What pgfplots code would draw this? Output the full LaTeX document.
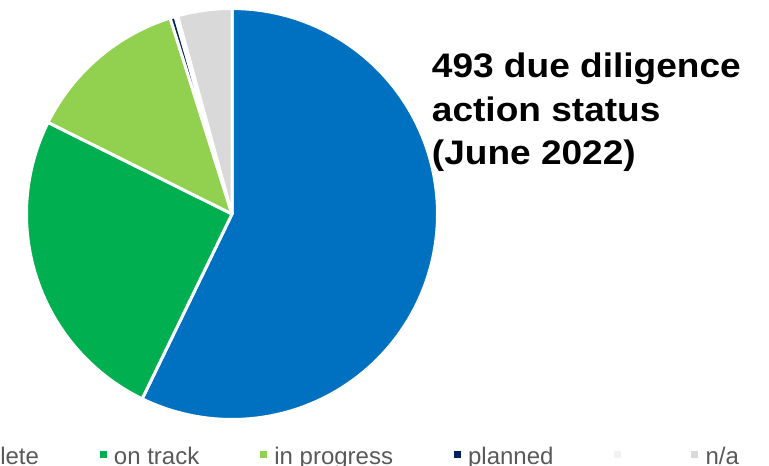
\documentclass[border=0pt]{standalone}
\usepackage{pgfplots}
\usepackage{pgfplotstable}
\pgfplotsset{compat=1.18}
\usepackage{fontspec}
\setmainfont{Liberation Sans}
\newfontfamily\titlefont[FakeStretch=1.09]{Liberation Sans}

\definecolor{cComplete}{HTML}{0070C0}
\definecolor{cTrack}{HTML}{00B050}
\definecolor{cProgress}{HTML}{92D050}
\definecolor{cPlanned}{HTML}{002060}
\definecolor{cBlank}{HTML}{F2F2F2}
\definecolor{cNA}{HTML}{D9D9D9}
\definecolor{legendtext}{HTML}{595959}

% number of due diligence actions per status (June 2022), total 493
\pgfplotstableread{
status count
complete 282
ontrack 124
inprogress 63
planned 2
blank 1
na 21
}\piedata

\def\cumsum{0}
\pgfplotsforeachungrouped \i in {0,...,5}{%
  \pgfplotstablegetelem{\i}{count}\of\piedata
  \pgfmathsetmacro\cumnext{\cumsum+\pgfplotsretval}%
  \global\let\cumsum\cumnext
}
\let\total\cumsum
\def\cumsum{0}
\pgfplotsforeachungrouped \i in {0,...,5}{%
  \pgfplotstablegetelem{\i}{count}\of\piedata
  \pgfmathsetmacro\cumnext{\cumsum+\pgfplotsretval}%
  \pgfmathsetmacro\tA{\cumsum/\total*360}%
  \pgfmathsetmacro\tB{\cumnext/\total*360}%
  \expandafter\xdef\csname sliceA\i\endcsname{\tA}%
  \expandafter\xdef\csname sliceB\i\endcsname{\tB}%
  \global\let\cumsum\cumnext
}
\newcommand\ang[2]{\csname slice#1#2\endcsname}

\begin{document}
\begin{tikzpicture}
\begin{axis}[
  x=0.5pt, y=0.5pt, y dir=reverse,
  xmin=0, xmax=769, ymin=0, ymax=465, enlargelimits=false,
  hide axis, clip=false,
  legend columns=-1,
  legend style={draw=none, fill=none, inner sep=0pt, outer sep=0pt,
    at={(axis cs:-72.4,467)}, anchor=south west,
    font=\fontsize{12}{14}\selectfont, text=legendtext,
    nodes={inner sep=0pt},
    /tikz/every odd column/.append style={column sep=3.5pt},
    /tikz/every even column/.append style={column sep=30.5pt}},
  legend image code/.code={\fill[#1,draw=none] (0pt,-0.5pt) rectangle (3.5pt,3pt);},
  slice/.style={draw=white, line width=1.5pt, line join=round, samples=120},
]
\addplot[slice, fill=cComplete, domain=\ang{A}{0}:\ang{B}{0}]
  ({232+205.5*sin(x)},{214-205.5*cos(x)}) -- (axis cs:232,214) -- cycle;
\addlegendentry{complete}
\addplot[slice, fill=cTrack, domain=\ang{A}{1}:\ang{B}{1}]
  ({232+205.5*sin(x)},{214-205.5*cos(x)}) -- (axis cs:232,214) -- cycle;
\addlegendentry{on track}
\addplot[slice, fill=cProgress, domain=\ang{A}{2}:\ang{B}{2}]
  ({232+205.5*sin(x)},{214-205.5*cos(x)}) -- (axis cs:232,214) -- cycle;
\addlegendentry{in progress}
\addplot[slice, fill=cPlanned, domain=\ang{A}{3}:\ang{B}{3}]
  ({232+205.5*sin(x)},{214-205.5*cos(x)}) -- (axis cs:232,214) -- cycle;
\addlegendentry{planned}
\addplot[slice, fill=cBlank, domain=\ang{A}{4}:\ang{B}{4}]
  ({232+205.5*sin(x)},{214-205.5*cos(x)}) -- (axis cs:232,214) -- cycle;
\addlegendentry{\mbox{}}
\addplot[slice, fill=cNA, domain=\ang{A}{5}:\ang{B}{5}]
  ({232+205.5*sin(x)},{214-205.5*cos(x)}) -- (axis cs:232,214) -- cycle;
\addlegendentry{n/a}

\node[anchor=base west, inner sep=0pt, font=\titlefont\bfseries\fontsize{17}{21}\selectfont]
  at (axis cs:431.5,77) {493 due diligence};
\node[anchor=base west, inner sep=0pt, font=\titlefont\bfseries\fontsize{17}{21}\selectfont]
  at (axis cs:431.5,121) {action status};
\node[anchor=base west, inner sep=0pt, font=\titlefont\bfseries\fontsize{17}{21}\selectfont]
  at (axis cs:431.5,164) {(June 2022)};
\end{axis}
\pgfresetboundingbox
\path[use as bounding box] (current axis.south west) rectangle (current axis.north east);
\end{tikzpicture}
\end{document}
